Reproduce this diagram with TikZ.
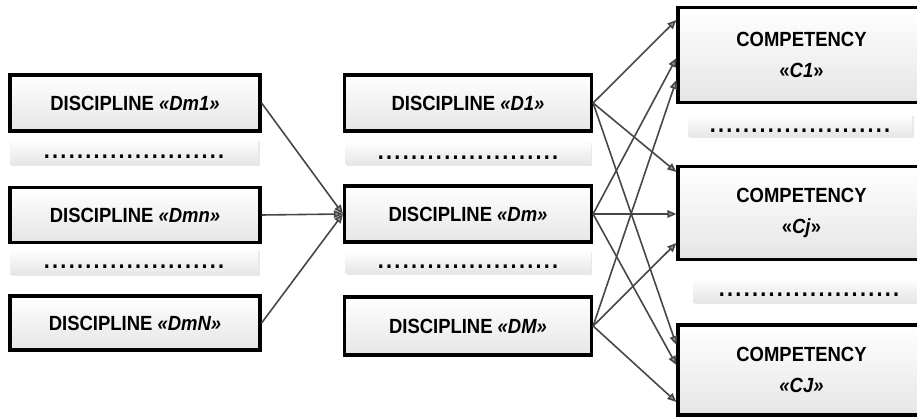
\documentclass[tikz,border=0pt]{standalone}
\usepackage{fontspec}
\setmainfont{Liberation Sans}[FakeStretch=0.9]
\usetikzlibrary{arrows.meta,shadows}
\newcommand\dt{\makebox[8.3pt]{.}}
\newcommand\dotrow{\dt\dt\dt\dt\dt\dt\dt\dt\dt\dt\dt\dt\dt\dt\dt\dt\dt\dt\dt\dt\dt\dt}
\begin{document}
\begin{tikzpicture}[x=1pt,y=-1pt,
  box/.style={draw=black, line width=3.2pt, top color=white, bottom color=black!10,
    drop shadow={opacity=0.35,shadow xshift=1.5pt,shadow yshift=-2pt},
    font=\fontsize{20.5}{31}\selectfont\bfseries, align=center, inner sep=0pt},
  dbox/.style={top color=white, bottom color=black!10,
    drop shadow={opacity=0.18,shadow xshift=1.5pt,shadow yshift=-1.5pt},
    inner sep=0pt, text height=13.2pt, text depth=0pt,
    font=\fontsize{24}{24}\selectfont\bfseries},
  link/.style={draw=black!72, line width=1.6pt, -{Triangle[length=9pt,width=7.5pt,fill=black!40]}}
]
\useasboundingbox (0,0) rectangle (917,419);
\clip (0,0) rectangle (917,419);
% left column
\node[box, minimum width=250pt, minimum height=56pt] (Dm1) at (135,103) {DISCIPLINE \textit{«Dm1»}};
\node[dbox, minimum width=248pt, minimum height=25pt] (ldots1) at (134,152) {\dotrow};
\node[box, minimum width=250pt, minimum height=55pt] (Dmn) at (135,215) {DISCIPLINE \textit{«Dmn»}};
\node[dbox, minimum width=248pt, minimum height=25pt] (ldots2) at (134,262) {\dotrow};
\node[box, minimum width=250pt, minimum height=54pt] (DmN) at (135,323) {DISCIPLINE \textit{«DmN»}};
% middle column
\node[box, minimum width=247pt, minimum height=56pt] (D1) at (468,103) {DISCIPLINE \textit{«D1»}};
\node[dbox, minimum width=245pt, minimum height=23pt] (mdots1) at (468,153) {\dotrow};
\node[box, minimum width=247pt, minimum height=56pt] (Dm) at (468,214) {DISCIPLINE \textit{«Dm»}};
\node[dbox, minimum width=245pt, minimum height=23pt] (mdots2) at (468,262) {\dotrow};
\node[box, minimum width=247pt, minimum height=58pt] (DM) at (468,326) {DISCIPLINE \textit{«DM»}};
% right column
\node[box, minimum width=247pt, minimum height=95pt] (C1) at (801.5,55) {COMPETENCY\\«\textit{C1}»};
\node[dbox, minimum width=224pt, minimum height=22pt] (rdots1) at (800,126) {\dotrow};
\node[box, minimum width=247pt, minimum height=93pt] (Cj) at (801.5,213) {COMPETENCY\\«\textit{Cj}»};
\node[dbox, minimum width=232pt, minimum height=24pt] (rdots2) at (809,290) {\dotrow};
\node[box, minimum width=247pt, minimum height=90pt] (CJ) at (801.5,370) {COMPETENCY\\\textit{«CJ»}};
% links left -> Dm
\draw[link] (Dm1.east) -- (Dm.west);
\draw[link] (Dmn.east) -- (Dm.west);
\draw[link] (DmN.east) -- (Dm.west);
% links middle -> right
\draw[link] (D1.east) -- ([yshift=35pt]C1.west);
\draw[link] (Dm.east) -- ([yshift=-3pt]C1.west);
\draw[link] (DM.east) -- ([yshift=-25pt]C1.west);
\draw[link] (D1.east) -- ([yshift=41pt]Cj.west);
\draw[link] (Dm.east) -- ([yshift=-1pt]Cj.west);
\draw[link] (DM.east) -- ([yshift=-30pt]Cj.west);
\draw[link] (D1.east) -- ([yshift=25pt]CJ.west);
\draw[link] (Dm.east) -- ([yshift=5pt]CJ.west);
\draw[link] (DM.east) -- ([yshift=-32pt]CJ.west);
\end{tikzpicture}
\end{document}
